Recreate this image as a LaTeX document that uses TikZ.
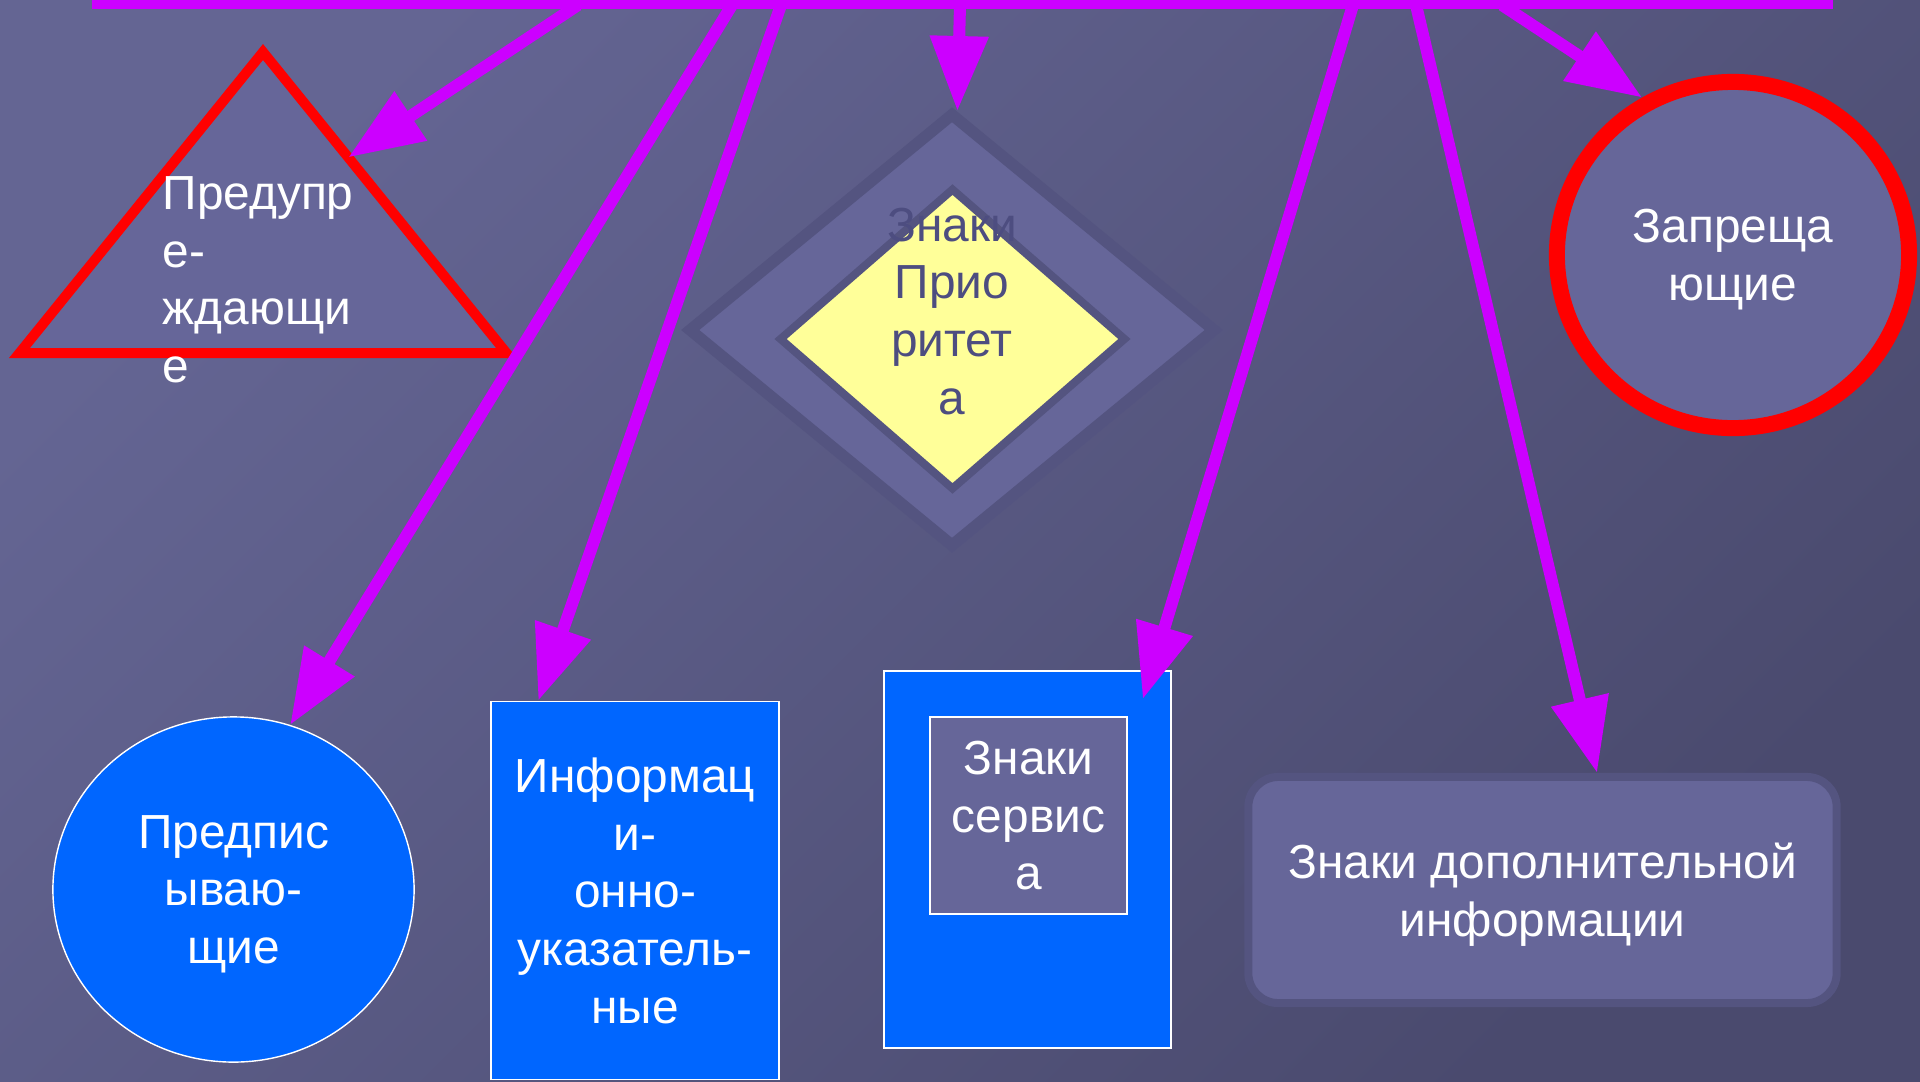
\documentclass[tikz,border=0pt]{standalone}
\usepackage{fontspec}
\setmainfont{Liberation Sans}
\usetikzlibrary{shapes.geometric, arrows.meta, calc}

\definecolor{signmagenta}{HTML}{CC00FF}
\definecolor{signblue}{HTML}{0066FF}
\definecolor{signslate}{HTML}{666699}
\definecolor{signdark}{HTML}{545480}
\definecolor{signyellow}{HTML}{FFFF99}
\definecolor{signtext}{HTML}{4D4D80}
\definecolor{bglight}{HTML}{646593}
\definecolor{bgdark}{HTML}{4A4A6E}

\begin{document}
\begin{tikzpicture}[
    x=0.01cm, y=-0.01cm,
    >={Triangle[length=7.5mm, width=5.6mm]},
    every node/.style={font=\fontsize{13.6}{16.4}\selectfont, text=white, align=center, inner sep=0pt},
    every edge/.style={draw=signmagenta, line width=1.2mm, ->},
    slatesign/.style={fill=signslate, text depth=0pt},
    bluesign/.style={fill=signblue, draw=white, line width=0.4pt, text depth=0pt}
]
    \useasboundingbox (0,0) rectangle (1920,1081);
    \shade[top color=bglight, bottom color=bgdark, shading angle=45] (0,0) rectangle (1920,1081);

    % top bar
    \coordinate (barL) at (92,4.6);
    \coordinate (barR) at (1833,4.6);
    \draw[signmagenta, line width=0.093cm] (barL) -- (barR);

    % signs
    \node[slatesign, draw=red, line width=1mm, outer sep=0pt, isosceles triangle,
          shape border rotate=90, isosceles triangle stretches,
          minimum width=4.87cm, minimum height=3.01cm, anchor=apex] (warn) at (263,52) {};
    \node[align=left, anchor=north west] (warnlbl) at (162,176) {Предупр\\е-\\ждающи\\е};

    \node[diamond, slatesign, draw=signdark, line width=1.15mm,
          minimum width=5.28cm, minimum height=4.35cm] (prio) at (952,330) {};
    \node[diamond, fill=signyellow, draw=signdark, line width=0.8mm,
          minimum width=3.47cm, minimum height=3.02cm] (prioin) at (952.5,339) {};
    \node[text=signtext, anchor=north] (priolbl) at (952,207) {Знаки\\Прио\\ритет\\а};

    \node[ellipse, slatesign, draw=red, line width=1.6mm,
          minimum width=3.52cm, minimum height=3.46cm] (prohib) at (1733,255) {Запреща\\ющие};

    \node[ellipse, bluesign, minimum width=3.61cm, minimum height=3.45cm] (presc) at (233.5,889.5) {Предпис\\ываю-\\щие};
    \node[bluesign, minimum width=2.88cm, minimum height=3.78cm] (info) at (635,890.5) {Информац\\и-\\онно-\\указатель-\\ные};
    \node[bluesign, minimum width=2.87cm, minimum height=3.77cm] (service) at (1027.5,859.5) {};
    \node[slatesign, draw=white, line width=0.4pt,
          minimum width=1.97cm, minimum height=1.97cm] (servicein) at (1028.5,815.5) {Знаки\\сервис\\а};
    \node[slatesign, draw=signdark, line width=0.8mm, rounded corners=3mm,
          minimum width=5.88cm, minimum height=2.26cm] (extra) at (1542.5,890) {Знаки дополнительной\\информации};

    % arrows from the bar
    \coordinate (b1) at (578,5);
    \coordinate (b2) at (732,5);
    \coordinate (b3) at (781,5);
    \coordinate (b4) at (960,5);
    \coordinate (b5) at (1353,5);
    \coordinate (b6) at (1416,5);
    \coordinate (b7) at (1502,5);

    \path
        (b1) edge ($(warn.apex)!0.35!(warn.right corner)$)
        (b2) edge (presc.71)
        (b3) edge (info.117)
        (b4) edge (prio)
        (b5) edge ([xshift=-2.9mm, yshift=-2.9mm]service.north east)
        (b6) edge (extra.65)
        (b7) edge (prohib.120);
\end{tikzpicture}
\end{document}
